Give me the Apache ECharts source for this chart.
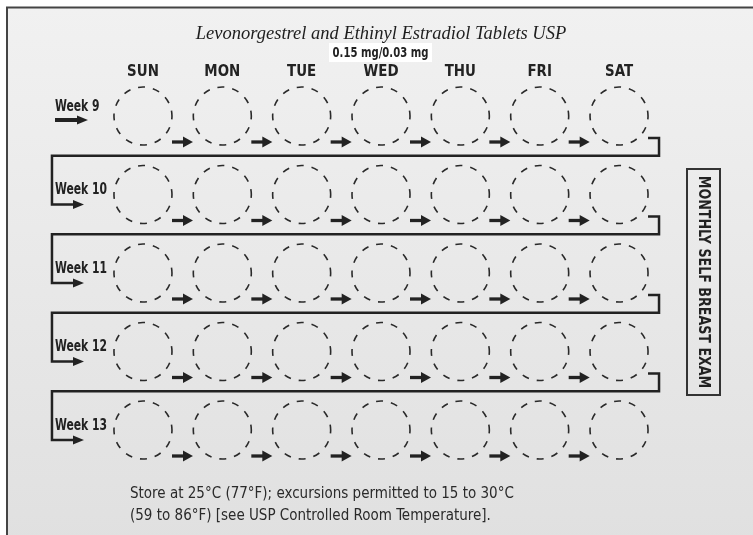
<!DOCTYPE html>
<html><head><meta charset="utf-8">
<script src="https://cdn.jsdelivr.net/npm/echarts@6/dist/echarts.min.js"></script>
<style>html,body{margin:0;padding:0;background:#fff}#c{width:753px;height:535px}</style>
</head><body><div id="c"></div>
<script>
const days = ['SUN', 'MON', 'TUE', 'WED', 'THU', 'FRI', 'SAT'];
const weeks = ['Week 9', 'Week 10', 'Week 11', 'Week 12', 'Week 13'];
const titleText = 'Levonorgestrel and Ethinyl Estradiol Tablets USP';
const doseText = '0.15 mg/0.03 mg';
const sideText = 'MONTHLY SELF BREAST EXAM';
const storageLines = ['Store at 25°C (77°F); excursions permitted to 15 to 30°C',
                      '(59 to 86°F) [see USP Controlled Room Temperature].'];

const COND = "'Liberation Sans Narrow','DejaVu Sans Condensed',sans-serif";
const INK = '#222';

const cells = [];
weeks.forEach((w, wi) => days.forEach((d, di) => cells.push([di, wi])));
const arrowCells = cells.filter(c => c[0] < days.length - 1);
const turnRows = weeks.map((w, wi) => [days.length - 1, wi]).filter(c => c[1] < weeks.length - 1);
const weekRows = weeks.map((w, wi) => [0, wi]);
const dayCols = days.map((d, di) => [di, 0]);

function arrow(x0, x1, y, w, hl, hh) {
  return [
    {type: 'line', shape: {x1: x0, y1: y, x2: x1 - hl + 1, y2: y}, style: {stroke: INK, lineWidth: w}},
    {type: 'polygon', shape: {points: [[x1 - hl, y - hh], [x1, y], [x1 - hl, y + hh]]}, style: {fill: INK}}
  ];
}

const chart = echarts.init(document.getElementById('c'), null, {renderer: 'canvas'});
chart.setOption({
  animation: false,
  backgroundColor: '#fff',
  title: [
    {text: titleText, left: 376, top: 20, textAlign: 'center',
     textStyle: {fontFamily: "'Liberation Serif','DejaVu Serif',serif", fontStyle: 'italic', fontWeight: 'normal', fontSize: 18.5, color: '#1e1e1e'}}
  ],
  grid: {left: 103.3, right: 94.3, top: 76.75, bottom: 65.75},
  xAxis: {type: 'category', data: days, show: false, boundaryGap: true},
  yAxis: {type: 'category', data: weeks, show: false, inverse: true, boundaryGap: true},
  graphic: [
    {type: 'rect', z: -10, shape: {x: 7, y: 7.5, width: 800, height: 600},
     style: {stroke: '#444', lineWidth: 2,
       fill: new echarts.graphic.LinearGradient(0, 0, 0, 1, [{offset: 0, color: '#f1f1f1'}, {offset: 1, color: '#dedede'}])}},
    {type: 'rect', shape: {x: 329, y: 43, width: 103, height: 19}, style: {fill: '#fff'}},
    {type: 'text', x: 380.5, y: 53, scaleX: 0.8,
     style: {text: doseText, font: `bold 14px ${COND}`, fill: INK, align: 'center', verticalAlign: 'middle'}},
    {type: 'rect', shape: {x: 687, y: 169, width: 33, height: 226}, style: {fill: 'none', stroke: '#333', lineWidth: 2}},
    {type: 'text', x: 703.5, y: 282, rotation: -Math.PI / 2, scaleX: 0.88,
     style: {text: sideText, font: `bold 16px ${COND}`, fill: INK, align: 'center', verticalAlign: 'middle'}},
    {type: 'text', x: 130, y: 483,
     style: {text: storageLines.join('\n'), font: `15px ${COND}`, lineHeight: 22, fill: '#2a2a2a', align: 'left', verticalAlign: 'top'}}
  ],
  series: [
    {type: 'custom', data: cells, encode: {x: 0, y: 1},
     renderItem: (params, api) => {
       const p = api.coord([api.value(0), api.value(1)]);
       return {type: 'circle', shape: {cx: p[0], cy: p[1], r: 29},
               style: {fill: 'none', stroke: '#2a2a2a', lineWidth: 1.6, lineDash: [7, 8], lineDashOffset: 3.5}};
     }},
    {type: 'custom', data: arrowCells, encode: {x: 0, y: 1},
     renderItem: (params, api) => {
       const p = api.coord([api.value(0), api.value(1)]);
       return {type: 'group', children: arrow(p[0] + 29, p[0] + 50, p[1] + 26, 3.3, 10, 5.5)};
     }},
    {type: 'custom', data: turnRows, encode: {x: 0, y: 1},
     renderItem: (params, api) => {
       const p = api.coord([api.value(0), api.value(1)]);
       const n = api.coord([0, api.value(1) + 1]);
       const mid = (p[1] + n[1]) / 2 + 0.5;
       const lx = n[0] - 91;
       return {type: 'group', children: [
         {type: 'polyline', shape: {points: [[p[0] + 29, p[1] + 22], [p[0] + 40, p[1] + 22], [p[0] + 40, mid], [lx, mid], [lx, n[1] + 10], [n[0] - 68, n[1] + 10]]},
          style: {stroke: INK, lineWidth: 2.5, fill: 'none', lineJoin: 'miter'}},
         {type: 'polygon', shape: {points: [[n[0] - 70, n[1] + 5.5], [n[0] - 59, n[1] + 10], [n[0] - 70, n[1] + 14.5]]}, style: {fill: INK}}
       ]};
     }},
    {type: 'custom', data: weekRows, encode: {x: 0, y: 1},
     renderItem: (params, api) => {
       const wi = api.value(1);
       const p = api.coord([0, wi]);
       const children = [{type: 'text', x: p[0] - 88, y: p[1] - (wi === 0 ? 9 : 4), scaleX: 0.8,
         style: {text: weeks[wi], x: 0, y: 0, font: `bold 15px ${COND}`, fill: INK, align: 'left', verticalAlign: 'middle'}}];
       if (wi === 0) children.push(...arrow(p[0] - 88, p[0] - 55, p[1] + 4, 4, 11, 4.5));
       return {type: 'group', children};
     }},
    {type: 'custom', data: dayCols, encode: {x: 0, y: 1},
     renderItem: (params, api) => {
       const di = api.value(0);
       const p = api.coord([di, 0]);
       return {type: 'text', x: p[0], y: p[1] - 44, scaleX: 0.93,
         style: {text: days[di], x: 0, y: 0, font: `bold 16px ${COND}`, fill: INK, align: 'center', verticalAlign: 'middle'}};
     }}
  ]
});
</script></body></html>
